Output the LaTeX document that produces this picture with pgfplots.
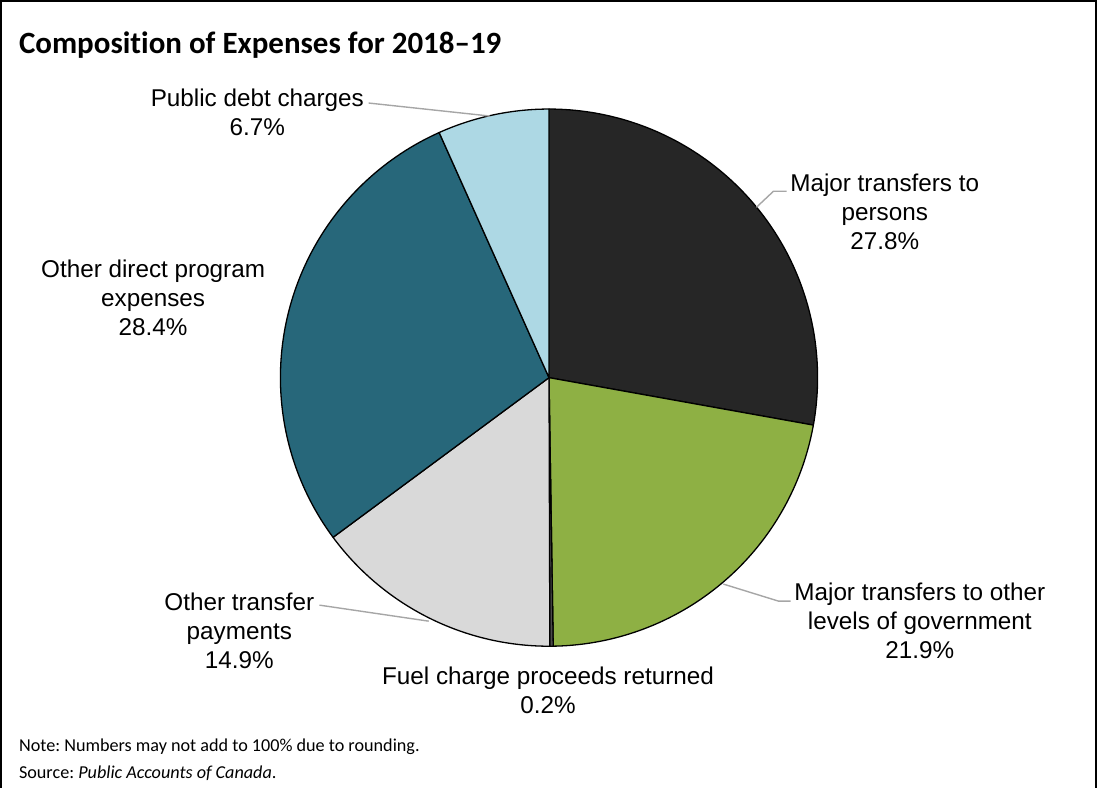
\documentclass[border=0pt]{standalone}
\usepackage{pgfplots}
\pgfplotsset{compat=1.18}
\usepackage{pgfplotstable}
\usepackage{fontspec}
\setmainfont{Liberation Sans}
\newfontfamily\calibri{Carlito}[Ligatures=NoCommon]
\frenchspacing

\definecolor{cPersons}{HTML}{262626}
\definecolor{cGov}{HTML}{8EB044}
\definecolor{cFuel}{HTML}{4A4A4A}
\definecolor{cOtherTr}{HTML}{D9D9D9}
\definecolor{cDirect}{HTML}{27677A}
\definecolor{cDebt}{HTML}{ADD8E4}
\definecolor{cLeader}{HTML}{A6A6A6}

% Shares of total expenses, 2018-19 (per cent), clockwise from the top
\pgfplotstableread[col sep=comma]{
category,share
Major transfers to persons,27.8
Major transfers to other levels of government,21.9
Fuel charge proceeds returned,0.2
Other transfer payments,14.9
Other direct program expenses,28.4
Public debt charges,6.7
}\expenses

\pgfplotstablegetelem{0}{share}\of\expenses \let\sA\pgfplotsretval
\pgfplotstablegetelem{1}{share}\of\expenses \let\sB\pgfplotsretval
\pgfplotstablegetelem{2}{share}\of\expenses \let\sC\pgfplotsretval
\pgfplotstablegetelem{3}{share}\of\expenses \let\sD\pgfplotsretval
\pgfplotstablegetelem{4}{share}\of\expenses \let\sE\pgfplotsretval
\pgfplotstablegetelem{5}{share}\of\expenses \let\sF\pgfplotsretval

% cumulative boundary angles (degrees), starting at 12 o'clock
\pgfmathsetmacro\tot{\sA+\sB+\sC+\sD+\sE+\sF}
\pgfmathsetmacro\aA{90}
\pgfmathsetmacro\aB{\aA-360*\sA/\tot}
\pgfmathsetmacro\aC{\aB-360*\sB/\tot}
\pgfmathsetmacro\aD{\aC-360*\sC/\tot}
\pgfmathsetmacro\aE{\aD-360*\sD/\tot}
\pgfmathsetmacro\aF{\aE-360*\sE/\tot}
\pgfmathsetmacro\aG{-270}

\newcommand\cx{549}
\newcommand\cy{378}
\newcommand\rr{268}

\pgfplotsset{
  slice/.style={draw=black, line width=1.3pt, line join=round, samples=90, variable=\t},
}
\tikzset{
  lbl/.style={anchor=base, font=\fontsize{24.3}{29}\selectfont, inner sep=0pt},
  leader/.style={draw=cLeader, line width=1.4pt},
  note/.style={anchor=base west, inner sep=0pt, font=\calibri\fontsize{18.2}{22}\selectfont},
}

\begin{document}
\begin{tikzpicture}
\begin{axis}[
  scale only axis, width=1097bp, height=787bp,
  xmin=0, xmax=1097, ymin=0, ymax=787, y dir=reverse,
  hide axis, clip=false,
]
% slices
\addplot[slice, fill=cPersons, domain=\aB:\aA] ({\cx+\rr*cos(\t)},{\cy-\rr*sin(\t)}) -- (\cx,\cy) -- cycle;
\addplot[slice, fill=cGov, domain=\aC:\aB] ({\cx+\rr*cos(\t)},{\cy-\rr*sin(\t)}) -- (\cx,\cy) -- cycle;
\addplot[slice, fill=cFuel, domain=\aD:\aC, samples=3] ({\cx+\rr*cos(\t)},{\cy-\rr*sin(\t)}) -- (\cx,\cy) -- cycle;
\addplot[slice, fill=cOtherTr, domain=\aE:\aD] ({\cx+\rr*cos(\t)},{\cy-\rr*sin(\t)}) -- (\cx,\cy) -- cycle;
\addplot[slice, fill=cDirect, domain=\aF:\aE] ({\cx+\rr*cos(\t)},{\cy-\rr*sin(\t)}) -- (\cx,\cy) -- cycle;
\addplot[slice, fill=cDebt, domain=\aG:\aF] ({\cx+\rr*cos(\t)},{\cy-\rr*sin(\t)}) -- (\cx,\cy) -- cycle;

% frame
\draw[black, line width=1.6pt] (2,787) -- (2,2) -- (1095,2) -- (1095,787);

% title
\node[anchor=base west, inner sep=0pt, font=\calibri\bfseries\fontsize{31}{36}\selectfont] at (20,55) {Composition of Expenses for 2018–19};

% leader lines
\draw[leader] (369,104) -- (490,117);
\draw[leader] (756,208) -- (773,192) -- (786,192);
\draw[leader] (723,584) -- (778,601) -- (790,601);
\draw[leader] (320,605) -- (429,621);

% labels
\node[lbl] at (258,107) {Public debt charges};
\node[lbl] at (258,136) {6.7\%};
\node[lbl] at (884,192) {Major transfers to};
\node[lbl] at (884,221) {persons};
\node[lbl] at (884,250) {27.8\%};
\node[lbl] at (154,278) {Other direct program};
\node[lbl] at (154,307) {expenses};
\node[lbl] at (154,336) {28.4\%};
\node[lbl] at (240,610) {Other transfer};
\node[lbl] at (240,639) {payments};
\node[lbl] at (240,668) {14.9\%};
\node[lbl] at (919,600) {Major transfers to other};
\node[lbl] at (919,629) {levels of government};
\node[lbl] at (919,658) {21.9\%};
\node[lbl] at (548,684) {Fuel charge proceeds returned};
\node[lbl] at (548,713) {0.2\%};

% notes
\node[note] at (20,751) {Note: Numbers may not add to 100\% due to rounding.};
\node[note] at (20,778) {Source: \textit{Public Accounts of Canada}.};
\end{axis}
\end{tikzpicture}
\end{document}
